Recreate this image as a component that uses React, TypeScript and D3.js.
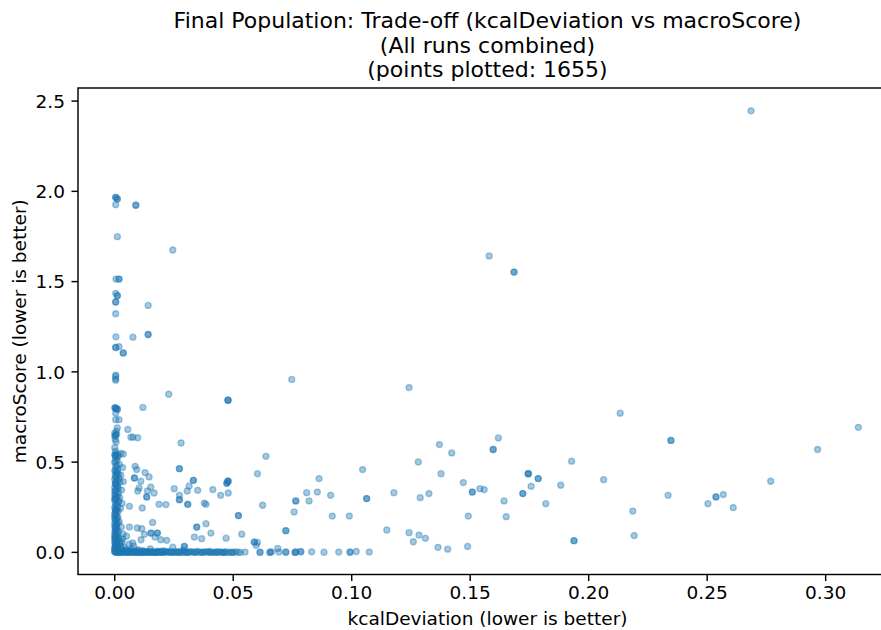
import React, { useEffect, useRef } from "react";
import * as d3 from "d3";

const titleLines = [
  "Final Population: Trade-off (kcalDeviation vs macroScore)",
  "(All runs combined)",
  "(points plotted: 1655)",
];
const xLabel = "kcalDeviation (lower is better)";
const yLabel = "macroScore (lower is better)";
const xTicks = [0, 0.05, 0.1, 0.15, 0.2, 0.25, 0.3];
const yTicks = [0, 0.5, 1, 1.5, 2, 2.5];

// [kcalDeviation, macroScore]
const highScores = [
  [0.2685, 2.446], [0.158, 1.642], [0.1685, 1.553], [0.1685, 1.553],
  [0.0004, 1.967], [0.0004, 1.967], [0.0011, 1.958], [0.0011, 1.958], [0.0004, 1.926],
  [0.0089, 1.923], [0.0089, 1.923], [0.0011, 1.749], [0.0245, 1.675],
  [0.0005, 1.514], [0.0018, 1.514], [0.0018, 1.514], [0.0004, 1.435], [0.0011, 1.422],
  [0.0011, 1.422], [0.0004, 1.387], [0.0004, 1.387], [0.0141, 1.368], [0.0004, 1.322],
  [0.0141, 1.207], [0.0141, 1.207], [0.0005, 1.194], [0.0077, 1.192], [0.0004, 1.135],
  [0.0004, 1.135], [0.0018, 1.14], [0.0036, 1.105], [0.0036, 1.105],
];

const spreadPoints = [
  [0.0004, 0.982], [0.0004, 0.975], [0.0004, 0.96], [0.0004, 0.954], [0.0747, 0.958],
  [0.1242, 0.913], [0.0228, 0.876], [0.0478, 0.843], [0.0478, 0.843], [0.0478, 0.843],
  [0.0119, 0.803], [0.0011, 0.793], [0.0011, 0.793], [0.0005, 0.798], [0.0004, 0.771],
  [0.0004, 0.735], [0.0018, 0.735], [0.0055, 0.681], [0.0068, 0.638], [0.0077, 0.638],
  [0.0097, 0.635], [0.028, 0.606], [0.137, 0.597], [0.1422, 0.551], [0.1619, 0.634],
  [0.1597, 0.57], [0.1597, 0.57], [0.1046, 0.459], [0.1281, 0.501], [0.1377, 0.436],
  [0.0862, 0.409], [0.1745, 0.436], [0.1745, 0.436], [0.1745, 0.436], [0.1787, 0.409],
  [0.1787, 0.409], [0.1928, 0.505], [0.1882, 0.372], [0.1757, 0.366], [0.1722, 0.326],
  [0.1722, 0.326], [0.1819, 0.27], [0.1643, 0.285], [0.1652, 0.198], [0.1471, 0.387],
  [0.1509, 0.334], [0.1509, 0.334], [0.1541, 0.353], [0.1559, 0.348], [0.1492, 0.201],
  [0.1326, 0.326], [0.1289, 0.303], [0.1178, 0.331], [0.1063, 0.298], [0.1063, 0.298],
  [0.081, 0.331], [0.0855, 0.334], [0.082, 0.285], [0.0764, 0.285], [0.0764, 0.285],
  [0.0911, 0.316], [0.0757, 0.224], [0.0918, 0.201], [0.099, 0.201], [0.0722, 0.12],
  [0.0722, 0.12], [0.1148, 0.124], [0.1242, 0.109], [0.1284, 0.096], [0.126, 0.059],
  [0.1311, 0.078], [0.1364, 0.028], [0.1405, 0.018], [0.1489, 0.033], [0.1938, 0.065],
  [0.1938, 0.065], [0.2133, 0.771], [0.2347, 0.62], [0.2347, 0.62], [0.2063, 0.403],
  [0.2186, 0.229], [0.2192, 0.093], [0.2335, 0.316], [0.2503, 0.27], [0.2537, 0.307],
  [0.2537, 0.307], [0.2568, 0.32], [0.261, 0.248], [0.2768, 0.394], [0.2966, 0.57],
  [0.3138, 0.693], [0.0638, 0.532], [0.0602, 0.436], [0.0624, 0.261], [0.0522, 0.204],
  [0.0522, 0.204], [0.0536, 0.101], [0.0589, 0.057], [0.0589, 0.057], [0.0597, 0.039],
  [0.0602, 0.055], [0.0478, 0.394], [0.0478, 0.394], [0.0478, 0.394], [0.0473, 0.383],
  [0.0473, 0.383], [0.0479, 0.329], [0.0086, 0.477], [0.0093, 0.459], [0.0128, 0.442],
  [0.0145, 0.418], [0.0083, 0.412], [0.0083, 0.412], [0.011, 0.394], [0.0273, 0.464],
  [0.0273, 0.464], [0.0332, 0.399], [0.0332, 0.399], [0.0314, 0.368], [0.0306, 0.34],
  [0.035, 0.344], [0.0251, 0.353], [0.0273, 0.316], [0.0273, 0.292], [0.0273, 0.292],
  [0.0414, 0.348], [0.0447, 0.316], [0.0378, 0.273], [0.0385, 0.266], [0.0308, 0.266],
  [0.0308, 0.266], [0.0103, 0.357], [0.0152, 0.362], [0.0166, 0.329], [0.0138, 0.34],
  [0.0097, 0.34], [0.0135, 0.307], [0.0135, 0.307], [0.0062, 0.255], [0.0116, 0.246],
  [0.0187, 0.266], [0.0216, 0.265], [0.016, 0.166], [0.0385, 0.159], [0.0346, 0.14],
  [0.0346, 0.14], [0.0406, 0.107], [0.0336, 0.085], [0.0367, 0.076], [0.047, 0.079],
  [0.0153, 0.107], [0.0153, 0.107], [0.018, 0.107], [0.018, 0.107], [0.0114, 0.131],
  [0.0062, 0.14], [0.0095, 0.135], [0.0125, 0.1], [0.017, 0.085], [0.0194, 0.07],
  [0.0219, 0.067], [0.0076, 0.052], [0.0111, 0.07], [0.0294, 0.033], [0.0294, 0.033],
  [0.0245, 0.029], [0.003, 0.06], [0.005, 0.09], [0.004, 0.03], [0.007, 0.02],
  [0.006, 0.045], [0.008, 0.035], [0.005, 0.012], [0.01, 0.015], [0.012, 0.01],
  [0.015, 0.02], [0.0688, 0.022],
];

const zeroColumn = [
  [0.0, 0.66], [0.0004, 0.648], [0.0007, 0.672], [0.0011, 0.69], [0.0002, 0.625],
  [0.0006, 0.612], [0.0, 0.58], [0.0003, 0.56], [0.0008, 0.545], [0.0, 0.54],
  [0.0015, 0.538], [0.0025, 0.548], [0.0036, 0.545], [0.0004, 0.525], [0.001, 0.51],
  [0.0, 0.498], [0.002, 0.487], [0.0004, 0.475], [0.0012, 0.462], [0.0033, 0.47],
  [0.0, 0.452], [0.0006, 0.44], [0.0016, 0.432], [0.0026, 0.428], [0.0004, 0.418],
  [0.0, 0.405], [0.0012, 0.398], [0.0022, 0.39], [0.0036, 0.392], [0.0004, 0.378],
  [0.0009, 0.372], [0.0, 0.36], [0.0016, 0.352], [0.0029, 0.345], [0.0004, 0.335],
  [0.0, 0.322], [0.0011, 0.312], [0.0021, 0.305], [0.0004, 0.298], [0.0, 0.288],
  [0.0014, 0.278], [0.0031, 0.272], [0.0004, 0.262], [0.0, 0.25], [0.0009, 0.24],
  [0.0024, 0.245], [0.0004, 0.23], [0.0015, 0.228], [0.0, 0.215], [0.0006, 0.205],
  [0.0013, 0.196], [0.0, 0.186], [0.0004, 0.176], [0.0019, 0.17], [0.0, 0.162],
  [0.0008, 0.152], [0.0, 0.142], [0.0028, 0.14], [0.0004, 0.132], [0.0012, 0.122],
  [0.0, 0.114], [0.0006, 0.104], [0.0035, 0.102], [0.0, 0.094], [0.0014, 0.086],
  [0.0004, 0.078], [0.0, 0.07], [0.0022, 0.066], [0.0008, 0.058], [0.0, 0.05],
  [0.0012, 0.042], [0.0004, 0.034], [0.0026, 0.03], [0.0, 0.024], [0.0009, 0.018],
  [0.0, 0.012], [0.0016, 0.008], [0.0004, 0.004], [0.0, 0.8], [0.0004, 0.65],
  [0.0002, 0.54], [0.0008, 0.43], [0.0004, 0.38], [0.0, 0.3], [0.0004, 0.23],
  [0.0, 0.2], [0.0008, 0.16], [0.0004, 0.12], [0.0, 0.08], [0.0006, 0.04], [0.0, 0.02],
  [0.0002, 0.802], [0.0006, 0.796], [0.0, 0.645], [0.0008, 0.655], [0.0004, 0.535],
  [0.0012, 0.528], [0.0002, 0.505], [0.0008, 0.482], [0.0003, 0.455], [0.0011, 0.445],
  [0.0002, 0.425], [0.0018, 0.41], [0.0006, 0.395], [0.0002, 0.383], [0.0012, 0.365],
  [0.0005, 0.348], [0.0, 0.34], [0.0015, 0.328], [0.0003, 0.315], [0.0009, 0.302],
  [0.0002, 0.292], [0.0018, 0.285], [0.0006, 0.268], [0.0012, 0.255], [0.0002, 0.238],
  [0.0007, 0.225], [0.0002, 0.21], [0.001, 0.19], [0.0003, 0.18], [0.0013, 0.165],
  [0.0002, 0.148], [0.001, 0.136], [0.0003, 0.126], [0.0016, 0.11], [0.0002, 0.098],
  [0.0009, 0.09], [0.0003, 0.082], [0.0011, 0.074], [0.0002, 0.062], [0.0018, 0.054],
  [0.0003, 0.046], [0.0009, 0.038], [0.0002, 0.028], [0.0013, 0.022], [0.0005, 0.014],
  [0.0, 0.006], [0.0021, 0.012], [0.0031, 0.02], [0.0024, 0.045], [0.0034, 0.075],
];

const zeroFloor = [
  [0.0, 0.002], [0.001, 0.0], [0.002, 0.004], [0.003, 0.001], [0.004, 0.006], [0.005, 0.0],
  [0.006, 0.003], [0.007, 0.008], [0.008, 0.001], [0.009, 0.004], [0.01, 0.0], [0.011, 0.006],
  [0.012, 0.002], [0.013, 0.0], [0.014, 0.005], [0.015, 0.001], [0.016, 0.003], [0.017, 0.0],
  [0.018, 0.007], [0.019, 0.002], [0.02, 0.0], [0.021, 0.004], [0.022, 0.001], [0.023, 0.006],
  [0.024, 0.0], [0.025, 0.003], [0.026, 0.001], [0.027, 0.005], [0.028, 0.0], [0.029, 0.012],
  [0.03, 0.002], [0.031, 0.0], [0.032, 0.004], [0.033, 0.001], [0.034, 0.0], [0.035, 0.006],
  [0.036, 0.002], [0.037, 0.0], [0.038, 0.003], [0.039, 0.001], [0.04, 0.005], [0.041, 0.0],
  [0.042, 0.002], [0.043, 0.0], [0.044, 0.004], [0.045, 0.001], [0.046, 0.0], [0.047, 0.003],
  [0.048, 0.0], [0.049, 0.002], [0.05, 0.0], [0.051, 0.003], [0.052, 0.001], [0.053, 0.0],
  [0.055, 0.002], [0.0005, 0.001], [0.0015, 0.003], [0.0025, 0.0], [0.0035, 0.004],
  [0.0045, 0.002], [0.0055, 0.0], [0.0065, 0.005], [0.0075, 0.001], [0.0085, 0.0],
  [0.0095, 0.003], [0.0105, 0.001], [0.0115, 0.0], [0.0125, 0.004], [0.0135, 0.002],
  [0.0145, 0.0], [0.0155, 0.003], [0.0165, 0.001], [0.0175, 0.0], [0.0185, 0.002],
  [0.0195, 0.004], [0.0205, 0.0], [0.0225, 0.002], [0.0245, 0.001], [0.0265, 0.0],
  [0.0285, 0.003], [0.0305, 0.0], [0.0335, 0.002], [0.0365, 0.0], [0.0395, 0.003],
  [0.0425, 0.001], [0.0455, 0.0], [0.0613, 0.0], [0.0613, 0.002], [0.0655, 0.0],
  [0.0655, 0.001], [0.0662, 0.003], [0.0693, 0.002], [0.0722, 0.0], [0.0722, 0.003],
  [0.0761, 0.0], [0.0761, 0.0], [0.0765, 0.004], [0.0785, 0.002], [0.0785, 0.006],
  [0.0831, 0.003], [0.0883, 0.001], [0.0945, 0.002], [0.0993, 0.0], [0.0993, 0.003],
  [0.1019, 0.005], [0.1074, 0.002],
  [0.0008, 0.004], [0.0018, 0.0], [0.0028, 0.002], [0.0038, 0.0], [0.0048, 0.004],
  [0.0058, 0.001], [0.0068, 0.0], [0.0078, 0.003], [0.0088, 0.0], [0.0098, 0.002],
  [0.0108, 0.0], [0.0118, 0.003], [0.0128, 0.0], [0.0138, 0.001], [0.0148, 0.003],
  [0.0158, 0.0], [0.0168, 0.002], [0.0178, 0.0], [0.0188, 0.003], [0.0198, 0.001],
  [0.0215, 0.003], [0.0235, 0.0], [0.0255, 0.002], [0.0275, 0.0], [0.0295, 0.001],
  [0.0315, 0.003], [0.0345, 0.001], [0.0375, 0.002], [0.0405, 0.0], [0.0435, 0.002],
  [0.0465, 0.001], [0.0495, 0.0], [0.0095, 0.01], [0.0205, 0.009], [0.0045, 0.011],
];

const allPoints = [...zeroFloor, ...zeroColumn, ...spreadPoints, ...highScores];

export default function App() {
  const svgRef = useRef(null);
  const width = 881;
  const height = 630;
  const plot = { left: 78, right: 897, top: 88, bottom: 574.5 };

  useEffect(() => {
    const svg = d3.select(svgRef.current);
    svg.selectAll("*").remove();

    const x = d3.scaleLinear().domain([-0.0155, 0.3301]).range([plot.left, plot.right]);
    const y = d3.scaleLinear().domain([-0.1225, 2.5725]).range([plot.bottom, plot.top]);
    const font = "DejaVu Sans, sans-serif";
    const tickSize = 18.5;

    // points
    svg
      .append("g")
      .selectAll("circle")
      .data(allPoints)
      .join("circle")
      .attr("cx", (d) => x(d[0]))
      .attr("cy", (d) => y(d[1]))
      .attr("r", 3)
      .attr("fill", "#1f77b4")
      .attr("fill-opacity", 0.4)
      .attr("stroke", "#1f77b4")
      .attr("stroke-opacity", 0.4)
      .attr("stroke-width", 1.3);

    // spines
    svg.append("rect")
      .attr("x", plot.left)
      .attr("y", plot.top)
      .attr("width", plot.right - plot.left)
      .attr("height", plot.bottom - plot.top)
      .attr("fill", "none")
      .attr("stroke", "black")
      .attr("stroke-width", 1.45);

    // x axis
    const xg = svg.append("g");
    xg.selectAll("line")
      .data(xTicks)
      .join("line")
      .attr("x1", (d) => x(d))
      .attr("x2", (d) => x(d))
      .attr("y1", plot.bottom)
      .attr("y2", plot.bottom + 6.5)
      .attr("stroke", "black")
      .attr("stroke-width", 1.45);
    xg.selectAll("text")
      .data(xTicks)
      .join("text")
      .attr("x", (d) => x(d))
      .attr("y", 598.5)
      .attr("text-anchor", "middle")
      .style("font-family", font)
      .style("font-size", tickSize + "px")
      .text((d) => d3.format(".2f")(d));

    // y axis
    const yg = svg.append("g");
    yg.selectAll("line")
      .data(yTicks)
      .join("line")
      .attr("x1", plot.left - 6.5)
      .attr("x2", plot.left)
      .attr("y1", (d) => y(d))
      .attr("y2", (d) => y(d))
      .attr("stroke", "black")
      .attr("stroke-width", 1.45);
    yg.selectAll("text")
      .data(yTicks)
      .join("text")
      .attr("x", plot.left - 13)
      .attr("y", (d) => y(d) + 6.7)
      .attr("text-anchor", "end")
      .style("font-family", font)
      .style("font-size", tickSize + "px")
      .text((d) => d3.format(".1f")(d));

    // labels
    const cx = (plot.left + plot.right) / 2;
    svg.append("text")
      .attr("x", cx)
      .attr("y", 625)
      .attr("text-anchor", "middle")
      .style("font-family", font)
      .style("font-size", tickSize + "px")
      .text(xLabel);
    svg.append("text")
      .attr("transform", `translate(26,${(plot.top + plot.bottom) / 2}) rotate(-90)`)
      .attr("text-anchor", "middle")
      .style("font-family", font)
      .style("font-size", tickSize + "px")
      .text(yLabel);

    svg.append("g")
      .selectAll("text")
      .data(titleLines)
      .join("text")
      .attr("x", cx)
      .attr("y", (d, i) => 28 + i * 24.5)
      .attr("text-anchor", "middle")
      .style("font-family", font)
      .style("font-size", "22px")
      .text((d) => d);
  }, []);

  return (
    <svg
      ref={svgRef}
      width={width}
      height={height}
      style={{ position: "absolute", left: 0, top: 0, background: "white" }}
    />
  );
}
